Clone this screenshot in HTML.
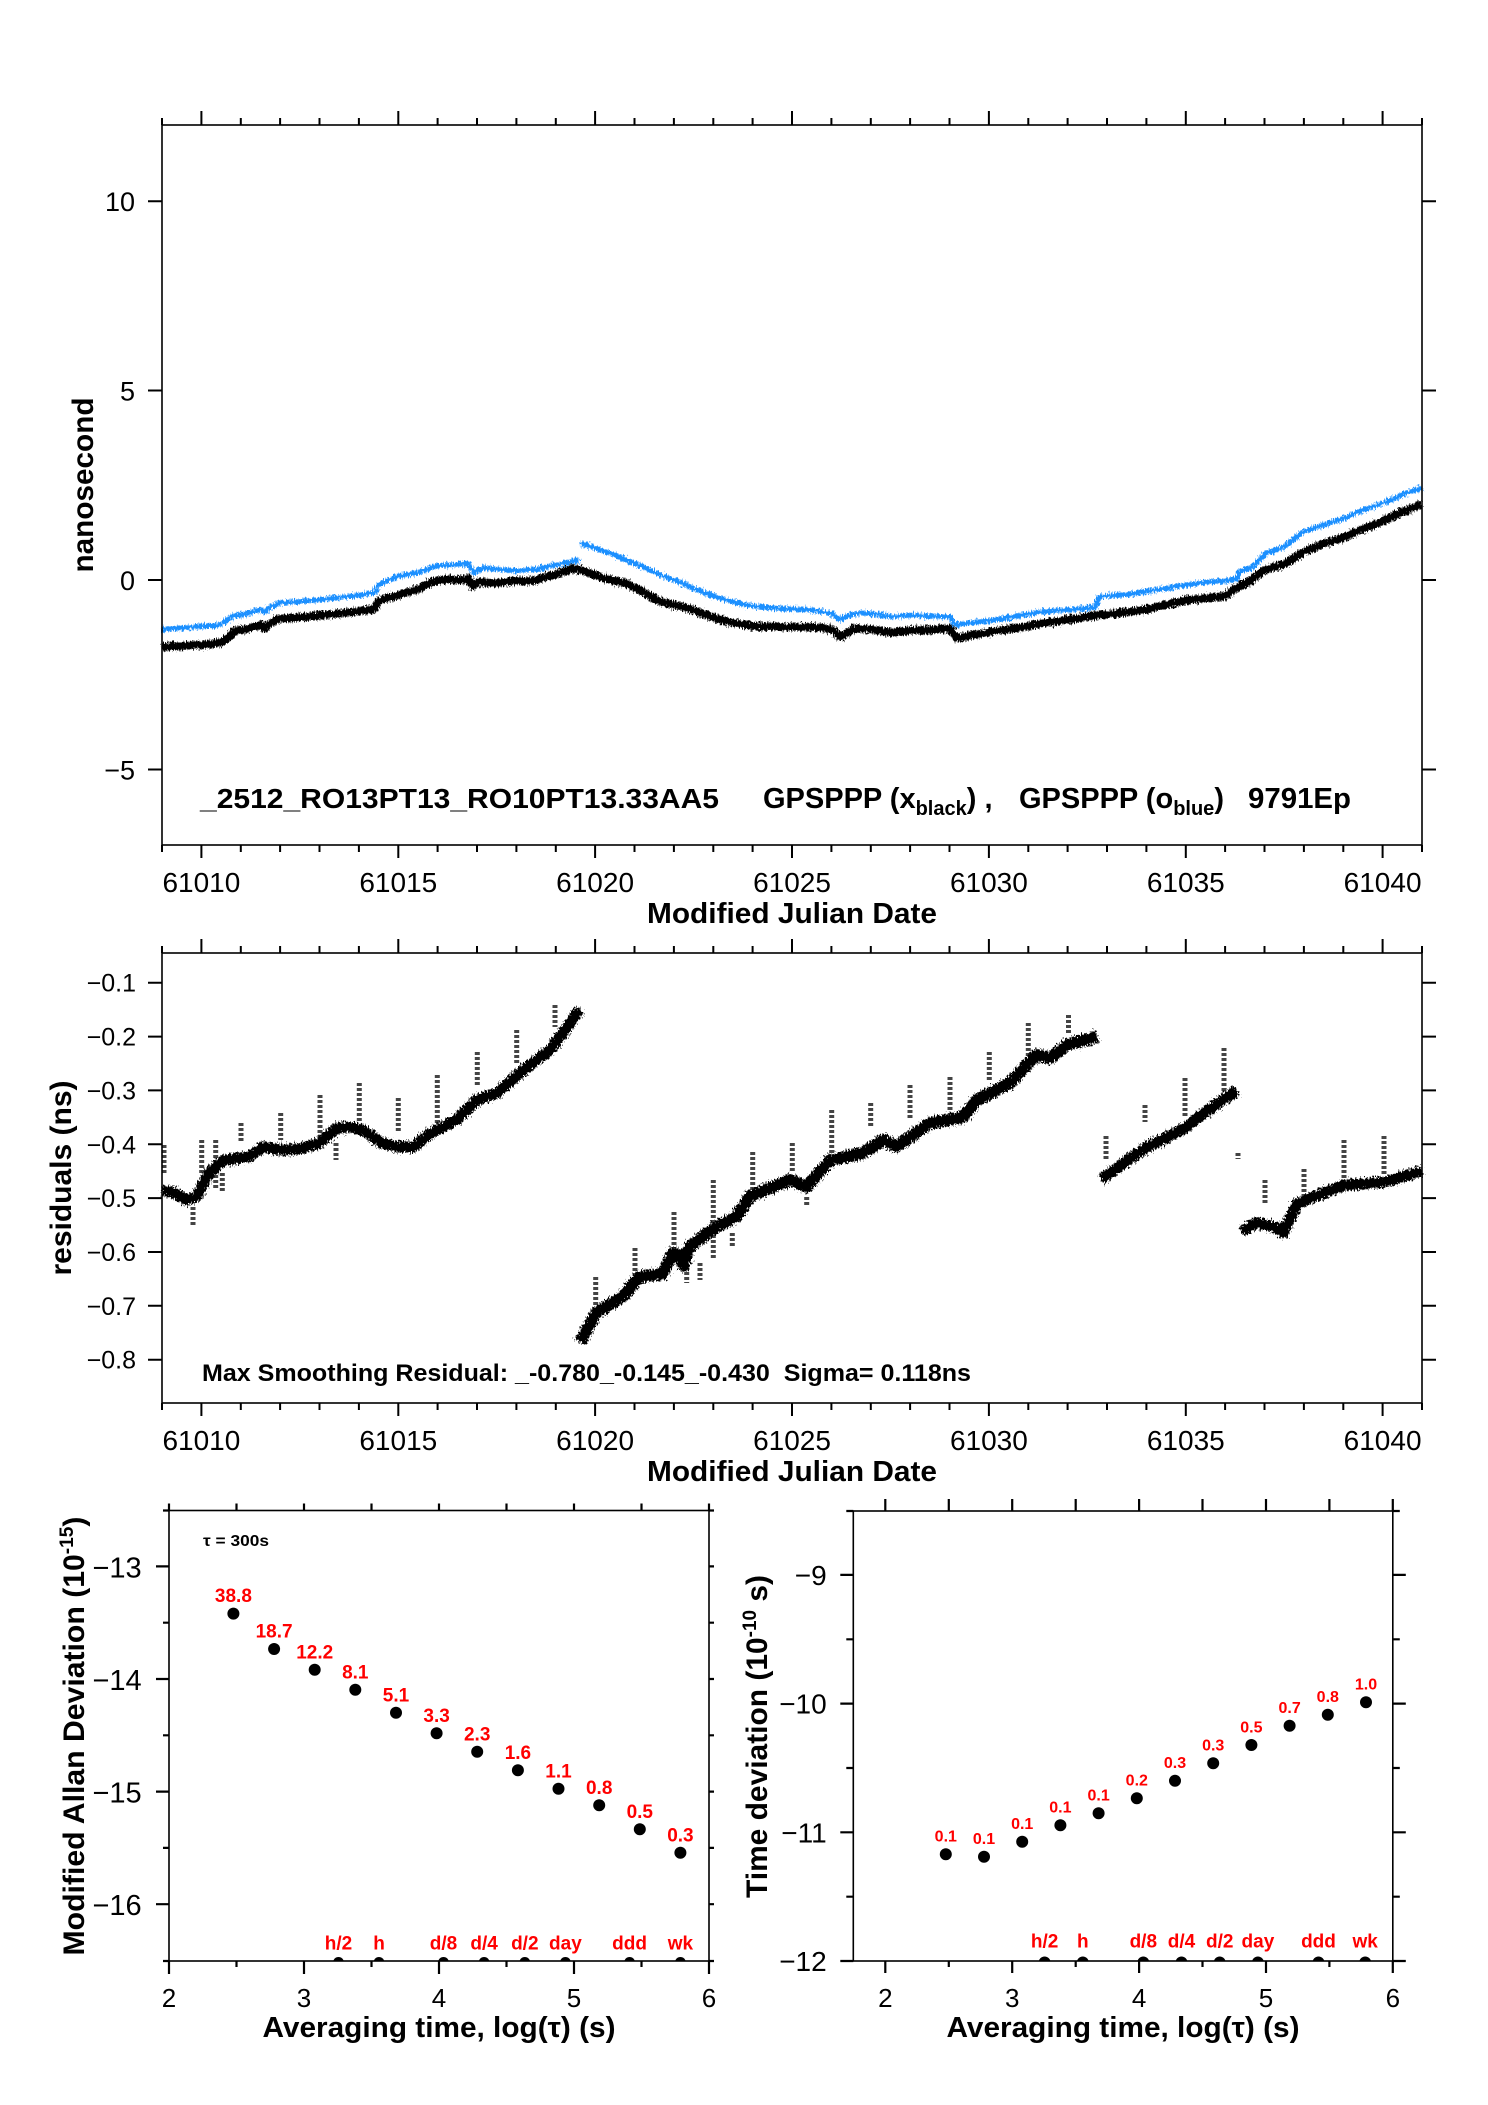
<!DOCTYPE html>
<html><head><meta charset="utf-8"><style>
html,body{margin:0;padding:0;background:#fff;}
svg{display:block;}
text{font-family:"Liberation Sans",Arial,sans-serif;fill:#000;}
.tl{font-size:27px;}
.tx{font-size:28px;}
.tm{font-size:25px;}
.ta{font-size:29px;}
.tb{font-size:26px;}
.bt{font-size:29px;font-weight:bold;}
.by{font-size:30px;font-weight:bold;}
.rl{font-size:19px;font-weight:bold;fill:#ff0000;}
.rs{font-size:16px;font-weight:bold;fill:#ff0000;}
.rb{font-size:19px;font-weight:bold;fill:#ff0000;}
</style></head><body>
<svg width="1488" height="2105" viewBox="0 0 1488 2105" xmlns="http://www.w3.org/2000/svg">
<defs>
<filter id="rough" filterUnits="userSpaceOnUse" x="0" y="0" width="1488" height="2105">
<feTurbulence type="fractalNoise" baseFrequency="0.9 0.3" numOctaves="2" seed="3" result="n"/>
<feDisplacementMap in="SourceGraphic" in2="n" scale="8" xChannelSelector="R" yChannelSelector="G"/>
</filter>
<filter id="rough2" filterUnits="userSpaceOnUse" x="0" y="0" width="1488" height="2105">
<feTurbulence type="fractalNoise" baseFrequency="0.7 0.4" numOctaves="2" seed="7" result="n"/>
<feDisplacementMap in="SourceGraphic" in2="n" scale="10" xChannelSelector="R" yChannelSelector="G"/>
</filter>
<path id="xtUp" d="M162 0v-7 M201.4 0v-14 M240.8 0v-7 M280.1 0v-7 M319.5 0v-7 M358.9 0v-7 M398.3 0v-14 M437.6 0v-7 M477 0v-7 M516.4 0v-7 M555.8 0v-7 M595.1 0v-14 M634.5 0v-7 M673.9 0v-7 M713.3 0v-7 M752.6 0v-7 M792 0v-14 M831.4 0v-7 M870.8 0v-7 M910.1 0v-7 M949.5 0v-7 M988.9 0v-14 M1028.3 0v-7 M1067.6 0v-7 M1107 0v-7 M1146.4 0v-7 M1185.8 0v-14 M1225.1 0v-7 M1264.5 0v-7 M1303.9 0v-7 M1343.3 0v-7 M1382.6 0v-14 M1422 0v-7" stroke="#000" stroke-width="2" fill="none"/>
<path id="xtDn" d="M162 0v7 M201.4 0v13 M240.8 0v7 M280.1 0v7 M319.5 0v7 M358.9 0v7 M398.3 0v13 M437.6 0v7 M477 0v7 M516.4 0v7 M555.8 0v7 M595.1 0v13 M634.5 0v7 M673.9 0v7 M713.3 0v7 M752.6 0v7 M792 0v13 M831.4 0v7 M870.8 0v7 M910.1 0v7 M949.5 0v7 M988.9 0v13 M1028.3 0v7 M1067.6 0v7 M1107 0v7 M1146.4 0v7 M1185.8 0v13 M1225.1 0v7 M1264.5 0v7 M1303.9 0v7 M1343.3 0v7 M1382.6 0v13 M1422 0v7" stroke="#000" stroke-width="2" fill="none"/>
<clipPath id="cA"><rect x="169" y="1505" width="540" height="456"/></clipPath>
<clipPath id="cT"><rect x="853" y="1505" width="540" height="456"/></clipPath>
</defs>
<rect x="0" y="0" width="1488" height="2105" fill="#fff"/>

<!-- ================= TOP PLOT ================= -->
<g filter="url(#rough)" fill="none" stroke-linejoin="round">
<polyline transform="matrix(39.375 0 0 -37.9 162 580)" vector-effect="non-scaling-stroke" stroke="#1e90ff" stroke-width="5" points="0,-1.32 0.3,-1.28 0.6,-1.25 1,-1.22 1.4,-1.2 1.6,-1.1 1.8,-0.95 2.2,-0.88 2.5,-0.78 2.6,-0.85 2.75,-0.72 3,-0.6 3.5,-0.57 4,-0.52 4.5,-0.46 5,-0.4 5.4,-0.33 5.5,-0.12 6,0.1 6.5,0.2 7,0.38 7.4,0.4 7.8,0.43 7.9,0.2 8.2,0.32 8.6,0.27 9,0.25 9.5,0.28 10,0.4 10.3,0.46 10.5,0.52 10.6,0.47"/>
<polyline transform="matrix(39.375 0 0 -37.9 162 580)" vector-effect="non-scaling-stroke" stroke="#1e90ff" stroke-width="5" points="10.62,0.98 10.8,0.92 11,0.84 11.4,0.7 11.8,0.53 12.2,0.35 12.56,0.18 12.8,0.08 13,0 13.25,-0.1 13.49,-0.22 13.9,-0.38 14.34,-0.53 14.8,-0.65 15.19,-0.72 15.6,-0.74 16.03,-0.77 16.5,-0.79 17,-0.88 17.1,-0.95 17.22,-1.04 17.45,-0.93 17.73,-0.86 18.1,-0.9 18.57,-0.97 19,-0.93 19.42,-0.95 20.01,-0.97 20.14,-1.19 20.6,-1.12 21.11,-1.06 21.7,-0.95 22.38,-0.84 22.8,-0.8 23.23,-0.77 23.7,-0.72 23.8,-0.45 24,-0.42 24.5,-0.38 25,-0.3 25.5,-0.22 26,-0.13 26.5,-0.06 27,-0.02 27.3,0.03 27.35,0.22 27.7,0.35 28,0.68 28.5,0.88 29,1.28 29.5,1.45 30,1.62 30.5,1.85 31,2.02 31.5,2.25 32,2.43"/>
<polyline transform="matrix(39.375 0 0 -37.9 162 580)" vector-effect="non-scaling-stroke" stroke="#000" stroke-width="8" points="0,-1.78 0.25,-1.74 0.5,-1.75 0.75,-1.71 1,-1.72 1.25,-1.68 1.45,-1.66 1.6,-1.58 1.7,-1.5 1.85,-1.33 2.05,-1.32 2.2,-1.28 2.4,-1.22 2.5,-1.18 2.6,-1.28 2.75,-1.15 2.9,-1.05 3,-1.02 3.25,-1.01 3.5,-0.98 3.75,-0.97 4,-0.94 4.25,-0.92 4.5,-0.88 4.75,-0.86 5,-0.82 5.2,-0.8 5.4,-0.76 5.5,-0.55 5.7,-0.48 5.85,-0.45 6,-0.4 6.2,-0.33 6.4,-0.28 6.55,-0.22 6.7,-0.12 6.85,-0.06 7,-0.02 7.25,0.02 7.5,0 7.8,0.03 7.85,-0.1 7.9,-0.16 8,-0.08 8.1,-0.04 8.3,-0.07 8.5,-0.08 8.75,-0.05 9,-0.02 9.25,-0.03 9.5,0 9.75,0.08 10,0.15 10.2,0.22 10.45,0.31 10.6,0.27 10.8,0.2 11,0.13 11.2,0.06 11.38,0 11.6,-0.05 11.8,-0.09 12,-0.2 12.2,-0.31 12.4,-0.42 12.56,-0.53 12.8,-0.6 13,-0.66 13.25,-0.72 13.49,-0.79 13.7,-0.88 13.9,-0.95 14.1,-1.02 14.34,-1.1 14.6,-1.15 14.9,-1.2 15.19,-1.23 15.5,-1.22 15.8,-1.25 16.03,-1.23 16.3,-1.25 16.5,-1.24 16.8,-1.27 17,-1.3 17.1,-1.38 17.22,-1.5 17.4,-1.4 17.55,-1.3 17.73,-1.28 18,-1.3 18.3,-1.36 18.57,-1.39 18.8,-1.35 19.1,-1.33 19.42,-1.32 19.7,-1.3 20,-1.28 20.1,-1.4 20.18,-1.54 20.5,-1.47 20.8,-1.42 21.11,-1.36 21.5,-1.3 21.9,-1.24 22.38,-1.14 22.8,-1.08 23.23,-1.01 23.5,-0.97 24,-0.9 24.3,-0.87 24.5,-0.85 25,-0.78 25.5,-0.65 26,-0.53 26.5,-0.48 27,-0.42 27.3,-0.2 27.6,-0.05 28,0.26 28.5,0.42 29,0.75 29.5,0.95 30,1.12 30.5,1.35 31,1.55 31.5,1.8 32,2"/>
</g>
<rect x="162" y="125" width="1260" height="720" fill="none" stroke="#000" stroke-width="1.6"/>
<use href="#xtUp" y="125"/>
<use href="#xtDn" y="845"/>
<path d="M148 201.2h14 M148 390.5h14 M148 580h14 M148 769.5h14 M1422 201.2h14 M1422 390.5h14 M1422 580h14 M1422 769.5h14" stroke="#000" stroke-width="2"/>
<text class="tl" x="135" y="211" text-anchor="end">10</text>
<text class="tl" x="135" y="400.5" text-anchor="end">5</text>
<text class="tl" x="135" y="590" text-anchor="end">0</text>
<text class="tl" x="135" y="779.5" text-anchor="end">−5</text>
<text class="tx" x="201.4" y="892" text-anchor="middle">61010</text>
<text class="tx" x="398.3" y="892" text-anchor="middle">61015</text>
<text class="tx" x="595.1" y="892" text-anchor="middle">61020</text>
<text class="tx" x="792" y="892" text-anchor="middle">61025</text>
<text class="tx" x="988.9" y="892" text-anchor="middle">61030</text>
<text class="tx" x="1185.8" y="892" text-anchor="middle">61035</text>
<text class="tx" x="1382.6" y="892" text-anchor="middle">61040</text>
<text class="bt" x="792" y="923" text-anchor="middle" textLength="290" lengthAdjust="spacingAndGlyphs">Modified Julian Date</text>
<text class="by" transform="translate(93,485) rotate(-90)" text-anchor="middle" textLength="175" lengthAdjust="spacingAndGlyphs">nanosecond</text>
<text class="bt" x="200" y="808" textLength="519" lengthAdjust="spacingAndGlyphs" style="font-size:28px">_2512_RO13PT13_RO10PT13.33AA5</text>
<text class="bt" x="763" y="808">GPSPPP (x<tspan font-size="20" dy="7">black</tspan><tspan dy="-7">) ,</tspan></text>
<text class="bt" x="1019" y="808">GPSPPP (o<tspan font-size="20" dy="7">blue</tspan><tspan dy="-7">)</tspan></text>
<text class="bt" x="1248" y="808" textLength="103" lengthAdjust="spacingAndGlyphs">9791Ep</text>

<!-- ================= MIDDLE PLOT ================= -->
<path d="M164 1145V1173 M193 1207V1227 M201.7 1140V1173 M215.7 1140V1190 M222.3 1173V1193 M241 1123V1143 M280.7 1113V1140 M320 1095V1140 M336 1143V1160 M359.3 1083V1123 M398.3 1098V1133 M437.3 1075V1123 M477.3 1052V1087 M516.7 1030V1063 M555 1005V1027 M595.7 1277V1307 M635 1248V1277 M674 1212V1253 M686.7 1267V1283 M700 1263V1280 M713.3 1180V1260 M732.3 1233V1247 M752.7 1152V1190 M792.3 1143V1173 M806.7 1197V1207 M831.7 1110V1153 M870.7 1103V1127 M910 1085V1120 M950 1077V1110 M989.3 1052V1080 M1028.3 1023V1057 M1068.5 1015V1035 M1106 1136V1159 M1145 1105V1122 M1185 1078V1116 M1224 1048V1091 M1265 1180V1203 M1304 1169V1207 M1344 1140V1183 M1384 1136V1176 M1238 1153V1159" stroke="#444" stroke-width="5" stroke-dasharray="3 2" fill="none"/>
<g filter="url(#rough2)" fill="none" stroke="#000" stroke-linejoin="round">
<polyline transform="matrix(39.375 0 0 -538.6 162 928.84)" vector-effect="non-scaling-stroke" stroke-width="11" points="0,-0.485 0.3,-0.49 0.63,-0.503 0.88,-0.497 1.2,-0.453 1.55,-0.43 2,-0.425 2.23,-0.423 2.57,-0.405 3,-0.41 3.42,-0.41 4,-0.398 4.43,-0.37 4.8,-0.368 5.1,-0.374 5.6,-0.398 6,-0.405 6.38,-0.405 6.8,-0.38 7.48,-0.355 7.99,-0.318 8.5,-0.305 9.18,-0.262 9.35,-0.253 9.85,-0.225 10.19,-0.193 10.53,-0.157 10.62,-0.15"/>
<polyline transform="matrix(39.375 0 0 -538.6 162 928.84)" vector-effect="non-scaling-stroke" stroke-width="12" points="10.62,-0.767 11.03,-0.713 11.7,-0.683 12.13,-0.646 12.72,-0.64 12.97,-0.602 13.15,-0.605 13.24,-0.625 13.4,-0.59 14.08,-0.553 14.59,-0.534 14.93,-0.497 15.95,-0.466 16.37,-0.479 16.96,-0.43 17.81,-0.416 18.32,-0.392 18.66,-0.404 19.5,-0.361 20.35,-0.349 20.69,-0.318 21.54,-0.286 22.21,-0.234 22.55,-0.24 23,-0.215 23.75,-0.2"/>
<polyline transform="matrix(39.375 0 0 -538.6 162 928.84)" vector-effect="non-scaling-stroke" stroke-width="11" points="23.85,-0.465 24.9,-0.41 25.93,-0.372 26.6,-0.335 27.3,-0.3"/>
<polyline transform="matrix(39.375 0 0 -538.6 162 928.84)" vector-effect="non-scaling-stroke" stroke-width="11" points="27.42,-0.562 27.8,-0.546 28.3,-0.555 28.48,-0.565 28.6,-0.545 28.83,-0.51 30,-0.476 31.05,-0.47 32,-0.45"/>
</g>
<rect x="162" y="953" width="1260" height="450" fill="none" stroke="#000" stroke-width="1.6"/>
<use href="#xtUp" y="953"/>
<use href="#xtDn" y="1403"/>
<path d="M148 982.7h14 M148 1036.6h14 M148 1090.4h14 M148 1144.3h14 M148 1198.1h14 M148 1252h14 M148 1305.8h14 M148 1359.7h14 M1422 982.7h14 M1422 1036.6h14 M1422 1090.4h14 M1422 1144.3h14 M1422 1198.1h14 M1422 1252h14 M1422 1305.8h14 M1422 1359.7h14" stroke="#000" stroke-width="2"/>
<text class="tm" x="136" y="991.7" text-anchor="end">−0.1</text>
<text class="tm" x="136" y="1045.6" text-anchor="end">−0.2</text>
<text class="tm" x="136" y="1099.4" text-anchor="end">−0.3</text>
<text class="tm" x="136" y="1153.3" text-anchor="end">−0.4</text>
<text class="tm" x="136" y="1207.1" text-anchor="end">−0.5</text>
<text class="tm" x="136" y="1261" text-anchor="end">−0.6</text>
<text class="tm" x="136" y="1314.8" text-anchor="end">−0.7</text>
<text class="tm" x="136" y="1368.7" text-anchor="end">−0.8</text>
<text class="tx" x="201.4" y="1450" text-anchor="middle">61010</text>
<text class="tx" x="398.3" y="1450" text-anchor="middle">61015</text>
<text class="tx" x="595.1" y="1450" text-anchor="middle">61020</text>
<text class="tx" x="792" y="1450" text-anchor="middle">61025</text>
<text class="tx" x="988.9" y="1450" text-anchor="middle">61030</text>
<text class="tx" x="1185.8" y="1450" text-anchor="middle">61035</text>
<text class="tx" x="1382.6" y="1450" text-anchor="middle">61040</text>
<text class="bt" x="792" y="1481" text-anchor="middle" textLength="290" lengthAdjust="spacingAndGlyphs">Modified Julian Date</text>
<text class="by" transform="translate(71,1178) rotate(-90)" text-anchor="middle" textLength="195" lengthAdjust="spacingAndGlyphs">residuals (ns)</text>
<text x="202" y="1381" style="font-size:24px;font-weight:bold;white-space:pre" textLength="769" lengthAdjust="spacingAndGlyphs">Max Smoothing Residual: _-0.780_-0.145_-0.430  Sigma= 0.118ns</text>

<!-- ================= ADEV PLOT ================= -->
<rect x="169" y="1510.5" width="540" height="450.5" fill="none" stroke="#000" stroke-width="1.6"/>
<path d="M169 1510.5v-7 M236.5 1510.5v-7 M304 1510.5v-7 M371.5 1510.5v-7 M439 1510.5v-7 M506.5 1510.5v-7 M574 1510.5v-7 M641.5 1510.5v-7 M709 1510.5v-7
M169 1961v13 M236.5 1961v6 M304 1961v13 M371.5 1961v6 M439 1961v13 M506.5 1961v6 M574 1961v13 M641.5 1961v6 M709 1961v13
M163 1510.5h6 M156 1566.4h13 M163 1622.7h6 M156 1679h13 M163 1735.3h6 M156 1791.6h13 M163 1847.9h6 M156 1904.2h13 M163 1961h6
M709 1510.5h5 M709 1566.4h5 M709 1622.7h5 M709 1679h5 M709 1735.3h5 M709 1791.6h5 M709 1847.9h5 M709 1904.2h5 M709 1961h5" stroke="#000" stroke-width="2.2" fill="none"/>
<text class="ta" x="141.7" y="1577.4" text-anchor="end">−13</text>
<text class="ta" x="141.7" y="1690" text-anchor="end">−14</text>
<text class="ta" x="141.7" y="1802.6" text-anchor="end">−15</text>
<text class="ta" x="141.7" y="1915.2" text-anchor="end">−16</text>
<text class="tb" x="169" y="2007" text-anchor="middle">2</text>
<text class="tb" x="304" y="2007" text-anchor="middle">3</text>
<text class="tb" x="439" y="2007" text-anchor="middle">4</text>
<text class="tb" x="574" y="2007" text-anchor="middle">5</text>
<text class="tb" x="709" y="2007" text-anchor="middle">6</text>
<text class="bt" x="439" y="2037" text-anchor="middle" textLength="353" lengthAdjust="spacingAndGlyphs">Averaging time, log(τ) (s)</text>
<text class="by" transform="translate(84,1736) rotate(-90)" text-anchor="middle" textLength="439" lengthAdjust="spacingAndGlyphs">Modified Allan Deviation (10<tspan font-size="19" dy="-11">-15</tspan><tspan dy="11">)</tspan></text>
<text x="203" y="1546" style="font-size:16px;font-weight:bold" textLength="66" lengthAdjust="spacingAndGlyphs">τ = 300s</text>
<g fill="#000">
<circle cx="233.4" cy="1613.6" r="6"/><circle cx="274.1" cy="1649" r="6"/><circle cx="314.7" cy="1669.7" r="6"/><circle cx="355.3" cy="1689.7" r="6"/><circle cx="396" cy="1712.7" r="6"/><circle cx="436.6" cy="1733.3" r="6"/><circle cx="477.2" cy="1751.7" r="6"/><circle cx="517.9" cy="1770.3" r="6"/><circle cx="558.5" cy="1788.7" r="6"/><circle cx="599.2" cy="1805.3" r="6"/><circle cx="639.8" cy="1829.3" r="6"/><circle cx="680.4" cy="1852.7" r="6"/>
</g>
<g fill="#000" clip-path="url(#cA)">
<circle cx="338.5" cy="1962.5" r="5.5"/><circle cx="379" cy="1962.5" r="5.5"/><circle cx="443.5" cy="1962.5" r="5.5"/><circle cx="484.1" cy="1962.5" r="5.5"/><circle cx="524.8" cy="1962.5" r="5.5"/><circle cx="565.4" cy="1962.5" r="5.5"/><circle cx="629.6" cy="1962.5" r="5.5"/><circle cx="680.4" cy="1962.5" r="5.5"/>
</g>
<g text-anchor="middle">
<text class="rl" x="233.4" y="1602">38.8</text>
<text class="rl" x="274.1" y="1637.5">18.7</text>
<text class="rl" x="314.7" y="1658.5">12.2</text>
<text class="rl" x="355.3" y="1678.5">8.1</text>
<text class="rl" x="396" y="1701.5">5.1</text>
<text class="rl" x="436.6" y="1722">3.3</text>
<text class="rl" x="477.2" y="1740.5">2.3</text>
<text class="rl" x="517.9" y="1759">1.6</text>
<text class="rl" x="558.5" y="1777.5">1.1</text>
<text class="rl" x="599.2" y="1794">0.8</text>
<text class="rl" x="639.8" y="1818">0.5</text>
<text class="rl" x="680.4" y="1841.5">0.3</text>
<text class="rb" x="338.5" y="1949.3">h/2</text>
<text class="rb" x="379" y="1949.3">h</text>
<text class="rb" x="443.5" y="1949.3">d/8</text>
<text class="rb" x="484.1" y="1949.3">d/4</text>
<text class="rb" x="524.8" y="1949.3">d/2</text>
<text class="rb" x="565.4" y="1949.3">day</text>
<text class="rb" x="629.6" y="1949.3">ddd</text>
<text class="rb" x="680.4" y="1949.3">wk</text>
</g>

<!-- ================= TDEV PLOT ================= -->
<rect x="853.3" y="1511" width="539.5" height="450" fill="none" stroke="#000" stroke-width="1.6"/>
<path d="M885.3 1511v-12 M948.8 1511v-12 M1012.2 1511v-12 M1075.7 1511v-12 M1139.1 1511v-12 M1202.5 1511v-12 M1266 1511v-12 M1329.4 1511v-12 M1392.8 1511v-12
M885.3 1961v12 M948.8 1961v6 M1012.2 1961v12 M1075.7 1961v6 M1139.1 1961v12 M1202.5 1961v6 M1266 1961v12 M1329.4 1961v6 M1392.8 1961v12
M846.3 1511h7 M840.3 1574.9h13 M846.3 1639.3h7 M840.3 1703.6h13 M846.3 1768h7 M840.3 1832.3h13 M846.3 1896.7h7 M840.3 1961h13
M1392.8 1511h7 M1392.8 1574.9h13 M1392.8 1639.3h7 M1392.8 1703.6h13 M1392.8 1768h7 M1392.8 1832.3h13 M1392.8 1896.7h7 M1392.8 1961h13" stroke="#000" stroke-width="2.2" fill="none"/>
<text class="ta" x="826.7" y="1584.9" text-anchor="end" style="font-size:28px">−9</text>
<text class="ta" x="826.7" y="1713.6" text-anchor="end" style="font-size:28px">−10</text>
<text class="ta" x="826.7" y="1842.3" text-anchor="end" style="font-size:28px">−11</text>
<text class="ta" x="826.7" y="1971" text-anchor="end" style="font-size:28px">−12</text>
<text class="tb" x="885.3" y="2007" text-anchor="middle">2</text>
<text class="tb" x="1012.2" y="2007" text-anchor="middle">3</text>
<text class="tb" x="1139.1" y="2007" text-anchor="middle">4</text>
<text class="tb" x="1266" y="2007" text-anchor="middle">5</text>
<text class="tb" x="1392.8" y="2007" text-anchor="middle">6</text>
<text class="bt" x="1123" y="2037" text-anchor="middle" textLength="353" lengthAdjust="spacingAndGlyphs">Averaging time, log(τ) (s)</text>
<text class="by" transform="translate(767,1736.5) rotate(-90)" text-anchor="middle" textLength="323" lengthAdjust="spacingAndGlyphs">Time deviation (10<tspan font-size="19" dy="-11">-10</tspan><tspan dy="11"> s)</tspan></text>
<g fill="#000">
<circle cx="945.8" cy="1854.3" r="6"/><circle cx="984" cy="1856.7" r="6"/><circle cx="1022.2" cy="1841.7" r="6"/><circle cx="1060.4" cy="1825.3" r="6"/><circle cx="1098.6" cy="1813.3" r="6"/><circle cx="1136.8" cy="1798.3" r="6"/><circle cx="1175" cy="1780.7" r="6"/><circle cx="1213.2" cy="1763.3" r="6"/><circle cx="1251.4" cy="1745" r="6"/><circle cx="1289.6" cy="1725.7" r="6"/><circle cx="1327.8" cy="1714.7" r="6"/><circle cx="1366" cy="1702.3" r="6"/>
</g>
<g fill="#000" clip-path="url(#cT)">
<circle cx="1044.6" cy="1962.5" r="6"/><circle cx="1082.8" cy="1962.5" r="6"/><circle cx="1143.3" cy="1962.5" r="6"/><circle cx="1181.5" cy="1962.5" r="6"/><circle cx="1219.7" cy="1962.5" r="6"/><circle cx="1257.9" cy="1962.5" r="6"/><circle cx="1318.5" cy="1962.5" r="6"/><circle cx="1365.2" cy="1962.5" r="6"/>
</g>
<g text-anchor="middle">
<text class="rs" x="945.8" y="1841.7">0.1</text>
<text class="rs" x="984" y="1844">0.1</text>
<text class="rs" x="1022.2" y="1829">0.1</text>
<text class="rs" x="1060.4" y="1812.7">0.1</text>
<text class="rs" x="1098.6" y="1800.7">0.1</text>
<text class="rs" x="1136.8" y="1785.7">0.2</text>
<text class="rs" x="1175" y="1768">0.3</text>
<text class="rs" x="1213.2" y="1750.7">0.3</text>
<text class="rs" x="1251.4" y="1732.4">0.5</text>
<text class="rs" x="1289.6" y="1713">0.7</text>
<text class="rs" x="1327.8" y="1702">0.8</text>
<text class="rs" x="1366" y="1689.7">1.0</text>
<text class="rb" x="1044.6" y="1947.7">h/2</text>
<text class="rb" x="1082.8" y="1947.7">h</text>
<text class="rb" x="1143.3" y="1947.7">d/8</text>
<text class="rb" x="1181.5" y="1947.7">d/4</text>
<text class="rb" x="1219.7" y="1947.7">d/2</text>
<text class="rb" x="1257.9" y="1947.7">day</text>
<text class="rb" x="1318.5" y="1947.7">ddd</text>
<text class="rb" x="1365.2" y="1947.7">wk</text>
</g>
</svg>
</body></html>
